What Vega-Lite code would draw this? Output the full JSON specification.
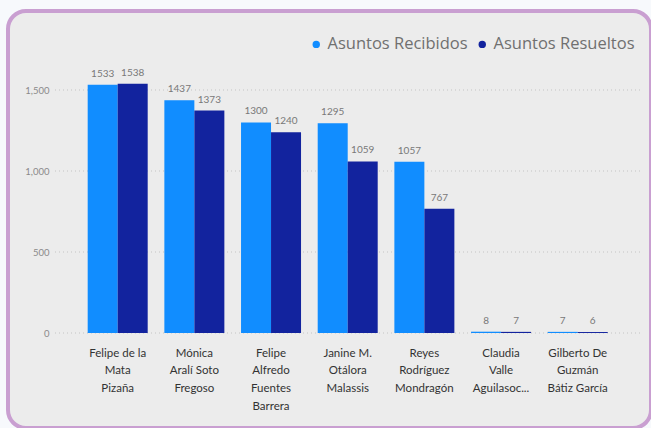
{
  "$schema": "https://vega.github.io/schema/vega-lite/v6.json",
  "width": 643,
  "height": 417,
  "autosize": {"type": "none"},
  "padding": {"left": 8, "top": 11, "right": 0, "bottom": 0},
  "background": "#f7f9fc",
  "view": {"fill": "#ececec", "stroke": "#c99fd1", "strokeWidth": 4, "cornerRadius": 18},
  "config": {"font": "Segoe UI, Lato, Open Sans, sans-serif"},
  "datasets": {
    "bars": [
      {"judge": "Felipe de la|Mata|Pizaña", "serie": "Asuntos Recibidos", "valor": 1533},
      {"judge": "Felipe de la|Mata|Pizaña", "serie": "Asuntos Resueltos", "valor": 1538},
      {"judge": "Mónica|Aralí Soto|Fregoso", "serie": "Asuntos Recibidos", "valor": 1437},
      {"judge": "Mónica|Aralí Soto|Fregoso", "serie": "Asuntos Resueltos", "valor": 1373},
      {"judge": "Felipe|Alfredo|Fuentes|Barrera", "serie": "Asuntos Recibidos", "valor": 1300},
      {"judge": "Felipe|Alfredo|Fuentes|Barrera", "serie": "Asuntos Resueltos", "valor": 1240},
      {"judge": "Janine M.|Otálora|Malassis", "serie": "Asuntos Recibidos", "valor": 1295},
      {"judge": "Janine M.|Otálora|Malassis", "serie": "Asuntos Resueltos", "valor": 1059},
      {"judge": "Reyes|Rodríguez|Mondragón", "serie": "Asuntos Recibidos", "valor": 1057},
      {"judge": "Reyes|Rodríguez|Mondragón", "serie": "Asuntos Resueltos", "valor": 767},
      {"judge": "Claudia|Valle|Aguilasoc...", "serie": "Asuntos Recibidos", "valor": 8},
      {"judge": "Claudia|Valle|Aguilasoc...", "serie": "Asuntos Resueltos", "valor": 7},
      {"judge": "Gilberto De|Guzmán|Bátiz García", "serie": "Asuntos Recibidos", "valor": 7},
      {"judge": "Gilberto De|Guzmán|Bátiz García", "serie": "Asuntos Resueltos", "valor": 6}
    ],
    "grid": [{"valor": 0}, {"valor": 500}, {"valor": 1000}, {"valor": 1500}]
  },
  "layer": [
    {
      "data": {"name": "grid"},
      "mark": {"type": "rule", "color": "#c4c4c4", "strokeWidth": 1, "strokeDash": [1, 3]},
      "encoding": {
        "x": {"datum": "Felipe de la|Mata|Pizaña", "type": "nominal", "bandPosition": -0.545},
        "x2": {"datum": "Gilberto De|Guzmán|Bátiz García", "bandPosition": 1.538},
        "y": {"field": "valor", "type": "quantitative"}
      }
    },
    {
      "data": {"name": "bars"},
      "mark": {"type": "bar"},
      "encoding": {
        "x": {"field": "judge", "type": "nominal"},
        "xOffset": {"field": "serie", "type": "nominal", "sort": ["Asuntos Recibidos", "Asuntos Resueltos"]},
        "y": {"field": "valor", "type": "quantitative"},
        "color": {
          "field": "serie", "type": "nominal",
          "scale": {"domain": ["Asuntos Recibidos", "Asuntos Resueltos"], "range": ["#118DFF", "#12239E"]},
          "legend": {
            "orient": "none", "legendX": 300, "legendY": 25, "direction": "horizontal",
            "title": null, "symbolType": "circle", "symbolSize": 55, "symbolStrokeWidth": 0,
            "labelFont": "Open Sans", "labelFontSize": 16.5, "labelColor": "#707070", "labelOffset": 3, "columnPadding": 6
          }
        }
      }
    },
    {
      "data": {"name": "bars"},
      "mark": {"type": "text", "dy": -8, "baseline": "alphabetic", "align": "center", "fontSize": 10, "color": "#787878"},
      "encoding": {
        "x": {"field": "judge", "type": "nominal"},
        "xOffset": {"field": "serie", "type": "nominal", "sort": ["Asuntos Recibidos", "Asuntos Resueltos"]},
        "y": {"field": "valor", "type": "quantitative"},
        "text": {"field": "valor", "type": "quantitative", "format": "d"}
      }
    }
  ],
  "resolve": {"scale": {"x": "shared", "y": "shared"}},
  "encoding": {
    "x": {
      "scale": {
        "domain": ["Felipe de la|Mata|Pizaña", "Mónica|Aralí Soto|Fregoso", "Felipe|Alfredo|Fuentes|Barrera", "Janine M.|Otálora|Malassis", "Reyes|Rodríguez|Mondragón", "Claudia|Valle|Aguilasoc...", "Gilberto De|Guzmán|Bátiz García"],
        "paddingInner": 0.2174, "paddingOuter": 0.802, "align": 0.648
      },
      "axis": {
        "orient": "bottom", "offset": -95, "title": null, "domain": false, "ticks": false, "grid": false,
        "labelAngle": 0, "labelExpr": "split(datum.label, '|')", "labelFontSize": 11.5, "labelColor": "#333333",
        "labelLineHeight": 17.8, "labelPadding": 14, "labelLimit": 200
      }
    },
    "y": {
      "scale": {"domain": [-586.4, 1987.7], "nice": false, "zero": false},
      "axis": {
        "orient": "left", "offset": -47, "title": null, "values": [0, 500, 1000, 1500], "format": ",d",
        "domain": false, "ticks": false, "grid": false, "labelFontSize": 9.5, "labelColor": "#8a8a8a", "labelPadding": 6
      }
    }
  }
}
